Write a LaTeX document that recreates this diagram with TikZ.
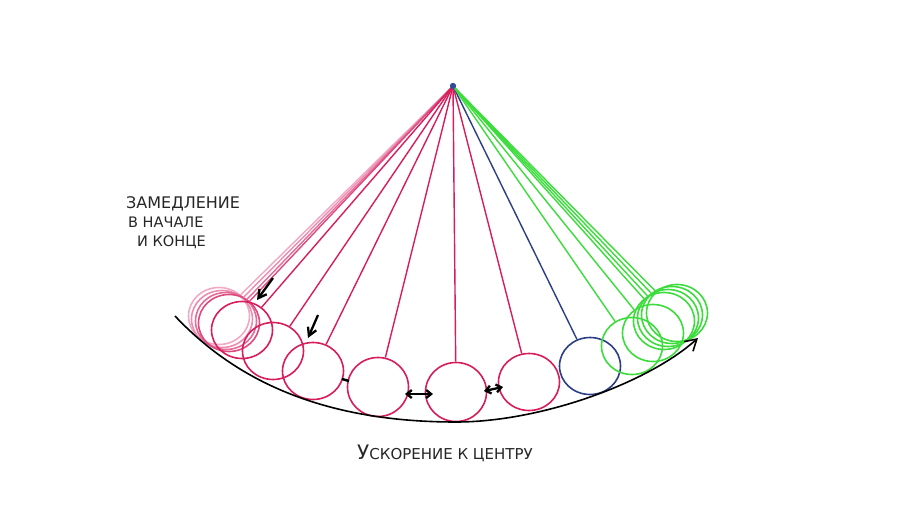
\documentclass[tikz,border=0pt]{standalone}
\usepackage{fontspec}
\setmainfont{DejaVu Sans}
\usetikzlibrary{shapes.geometric,arrows.meta}
\definecolor{cred}{HTML}{D81D5C}
\definecolor{pinka}{HTML}{F2A9C4}
\definecolor{pinkb}{HTML}{EC8DB0}
\definecolor{pinkc}{HTML}{E46C98}
\definecolor{pinkd}{HTML}{DD4A7E}
\definecolor{cgreen}{HTML}{3CDC3C}
\definecolor{cblue}{HTML}{2C3E86}
\definecolor{cpivot}{HTML}{2F4B9B}
\begin{document}
\begin{tikzpicture}[x=1pt,y=-1pt,
  bob/.style={ellipse,draw,line width=1.6pt,inner sep=0pt,minimum width=61pt,minimum height=57pt},
  bigbob/.style={bob,minimum height=59pt},
  rod/.style={line width=1.4pt},
  hintarrow/.style={line width=2.3pt,-{Straight Barb[length=8pt,width=9pt]}},
  dblarrow/.style={line width=2.3pt,{Straight Barb[length=5pt,width=8pt]}-{Straight Barb[length=5pt,width=8pt]}},
  hand/.style={inner sep=0pt,anchor=base west,text=black!85}
  ]
\useasboundingbox (0,0) rectangle (900,506);
\fill[white] (0,0) rectangle (900,506);

% bobs
\node[bob,draw=pinka] (p1) at (219,316) {};
\node[bob,draw=pinkb] (p2) at (222,319) {};
\node[bob,draw=pinkc] (p3) at (226,321) {};
\node[bob,draw=pinkd] (p4) at (229,323) {};
\node[bob,draw=cred] (r1) at (242,330) {};
\node[bob,draw=cred] (r2) at (273,351) {};
\node[bob,draw=cred] (r3) at (313,371) {};
\node[bigbob,draw=cred] (r4) at (378,387) {};
\node[bigbob,draw=cred] (r5) at (456,392) {};
\node[bob,draw=cred] (r6) at (529,382) {};
\node[bob,draw=cblue] (b1) at (590,366) {};
\node[bob,draw=cgreen] (g1) at (632,346) {};
\node[bob,draw=cgreen] (g2) at (653,333) {};
\node[bob,draw=cgreen] (g3) at (664,321) {};
\node[bob,draw=cgreen] (g4) at (668,318) {};
\node[bob,draw=cgreen] (g5) at (672,315) {};
\node[bob,draw=cgreen] (g6) at (677,313) {};

% pivot
\node[circle,fill=cpivot,inner sep=0pt,minimum size=6pt] (pv) at (453,86) {};

% rods
\draw[rod,pinka] (pv.center) -- (p1);
\draw[rod,pinkb] (pv.center) -- (p2);
\draw[rod,pinkc] (pv.center) -- (p3);
\draw[rod,pinkd] (pv.center) -- (p4);
\foreach \b in {r1,r2,r3,r4,r5,r6}{\draw[rod,cred] (pv.center) -- (\b);}
\draw[rod,cblue] (pv.center) -- (b1);
\foreach \b in {g1,g2,g3,g4,g5,g6}{\draw[rod,cgreen] (pv.center) -- (\b);}
\node[circle,fill=cpivot,inner sep=0pt,minimum size=6pt] at (pv) {};

% path of the swing
\coordinate (arcL) at (175,316);
\coordinate (arcB) at (456,422);
\coordinate (arcR) at (698,338);
\draw[line width=1.6pt,-{Straight Barb[length=11pt,width=13pt]}]
  (arcL) .. controls (240,385) and (330,422) .. (arcB)
         .. controls (541,422) and (648,383) .. (arcR);

% small arrows
\coordinate (a1s) at (273,278); \coordinate (a1e) at (257,300);
\coordinate (a2s) at (318,315); \coordinate (a2e) at (308,338);
\draw[hintarrow] (a1s) -- (a1e);
\draw[hintarrow] (a2s) -- (a2e);
\coordinate (d1s) at (342,379); \coordinate (d1e) at (349,381);
\draw[line width=2.5pt] (d1s) -- (d1e);
\coordinate (da1) at (405,394); \coordinate (db1) at (433,394);
\draw[dblarrow] (da1) -- (db1);
\coordinate (da2) at (484,391); \coordinate (db2) at (503,387);
\draw[dblarrow] (da2) -- (db2);

% texts
\node[hand,font=\fontsize{16}{18}\selectfont] (t1) at (126,208) {ЗАМЕДЛЕНИЕ};
\node[hand,font=\fontsize{14.5}{16}\selectfont] (t2) at (128,227) {В НАЧАЛЕ};
\node[hand,font=\fontsize{14.5}{16}\selectfont] (t3) at (137,246) {И КОНЦЕ};
\node[hand,font=\fontsize{15}{17}\selectfont] (t4) at (357,459) {{\fontsize{20}{21}\selectfont У}СКОРЕНИЕ К ЦЕНТРУ};
\end{tikzpicture}
\end{document}
